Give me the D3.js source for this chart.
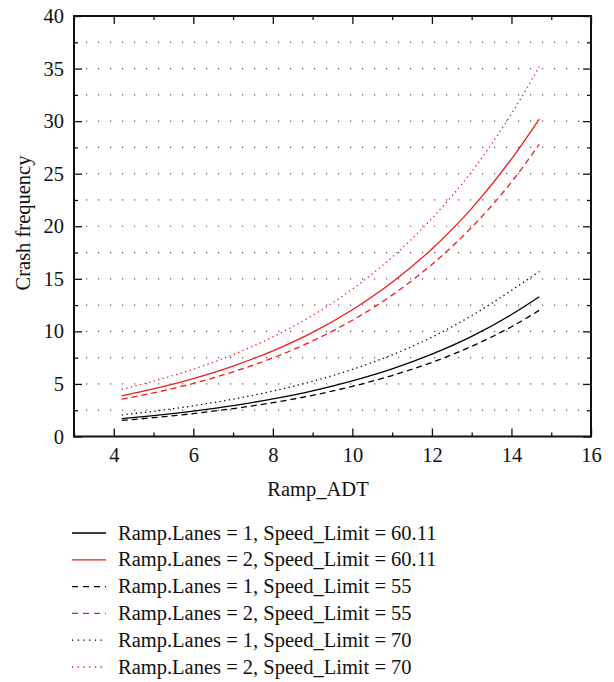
<!DOCTYPE html>
<html>
<head>
<title>Crash frequency vs Ramp_ADT</title>
<script src="https://d3js.org/d3.v7.min.js"></script>
<style type="text/css">
  body { margin: 0; background: white; }
  #chart text { font-family: "Liberation Serif", "Times New Roman", serif; fill: #111; }
</style>
</head>
<body>
<div id="chart"></div>
<script type="text/javascript">

// data
var rampADT = [4.2, 5, 6, 7, 8, 9, 10, 11, 12, 13, 14, 14.7];

var lanes1_6011 = [1.70, 1.99, 2.42, 2.94, 3.58, 4.35, 5.30, 6.44, 7.84, 9.53, 11.6, 13.3];
var lanes2_6011 = [3.87, 4.53, 5.51, 6.70, 8.15, 9.91, 12.06, 14.67, 17.84, 21.7, 26.4, 30.2];
var lanes1_55   = [1.53, 1.79, 2.18, 2.65, 3.22, 3.92, 4.77, 5.80, 7.05, 8.58, 10.44, 12.0];
var lanes2_55   = [3.55, 4.15, 5.05, 6.15, 7.48, 9.09, 11.06, 13.45, 16.37, 19.9, 24.2, 27.8];
var lanes1_70   = [2.05, 2.40, 2.92, 3.55, 4.32, 5.25, 6.39, 7.77, 9.45, 11.5, 13.9, 15.7];
var lanes2_70   = [4.50, 5.27, 6.40, 7.79, 9.48, 11.52, 14.02, 17.06, 20.75, 25.2, 30.7, 35.2];

var seriesNames = ["Ramp.Lanes = 1, Speed_Limit = 60.11",
                   "Ramp.Lanes = 2, Speed_Limit = 60.11",
                   "Ramp.Lanes = 1, Speed_Limit = 55",
                   "Ramp.Lanes = 2, Speed_Limit = 55",
                   "Ramp.Lanes = 1, Speed_Limit = 70",
                   "Ramp.Lanes = 2, Speed_Limit = 70"];
var seriesValues = [lanes1_6011, lanes2_6011, lanes1_55, lanes2_55, lanes1_70, lanes2_70];

var xMajor = [4, 6, 8, 10, 12, 14, 16];
var xMinor = [3, 5, 7, 9, 11, 13, 15];
var yMajor = [0, 5, 10, 15, 20, 25, 30, 35, 40];
var yMinor = [2.5, 7.5, 12.5, 17.5, 22.5, 27.5, 32.5, 37.5];

var colors = ["#000", "#ee1c1c", "#000", "#ee1c1c", "#000", "#ee1c1c"];
var dashes = [null, null, "6,4", "6,4", "1.3,3.4", "1.3,3.4"];

var width = 614, height = 682;
var plotLeft = 74, plotRight = 591, plotTop = 16, plotBottom = 436.5;

var svg = d3.select("#chart").append("svg")
            .attr("width", width)
            .attr("height", height);

var x = d3.scaleLinear().domain([3, 16]).range([plotLeft, plotRight]);
var y = d3.scaleLinear().domain([0, 40]).range([plotBottom, plotTop]);

// dotted grid at every 2.5
svg.append("g").selectAll("line")
   .data(yMajor.concat(yMinor).filter(function(v){ return v > 0 && v < 40; }))
   .enter().append("line")
   .attr("x1", plotLeft + 3).attr("x2", plotRight - 3)
   .attr("y1", function(d){ return y(d); })
   .attr("y2", function(d){ return y(d); })
   .attr("stroke", "#555")
   .attr("stroke-width", 1.2)
   .attr("stroke-dasharray", "1.2,10.8")
   .attr("stroke-dashoffset", -9);

// curves
var line = d3.line()
             .x(function(d){ return x(d[0]); })
             .y(function(d){ return y(d[1]); })
             .curve(d3.curveMonotoneX);

svg.append("g").selectAll("path")
   .data(seriesValues)
   .enter().append("path")
   .attr("d", function(vals){ return line(rampADT.map(function(a, i){ return [a, vals[i]]; })); })
   .attr("fill", "none")
   .attr("stroke", function(d, i){ return colors[i]; })
   .attr("stroke-width", 1.3)
   .attr("stroke-dasharray", function(d, i){ return dashes[i]; });

// axes, ticks inward
function tickStyle(g){
  g.select(".domain").remove();
  g.selectAll("line").attr("stroke", "#111").attr("stroke-width", 1.3);
}

svg.append("g").attr("transform", "translate(0," + plotBottom + ")")
   .call(d3.axisBottom(x).tickValues(xMajor).tickSize(-8).tickPadding(11).tickFormat(d3.format("d")))
   .call(tickStyle)
   .selectAll("text").attr("font-size", "20.5px");
svg.append("g").attr("transform", "translate(0," + plotBottom + ")")
   .call(d3.axisBottom(x).tickValues(xMinor).tickSize(-4).tickFormat(""))
   .call(tickStyle);
svg.append("g").attr("transform", "translate(0," + plotTop + ")")
   .call(d3.axisTop(x).tickValues(xMajor).tickSize(-8).tickFormat(""))
   .call(tickStyle);
svg.append("g").attr("transform", "translate(0," + plotTop + ")")
   .call(d3.axisTop(x).tickValues(xMinor).tickSize(-4).tickFormat(""))
   .call(tickStyle);

svg.append("g").attr("transform", "translate(" + plotLeft + ",0)")
   .call(d3.axisLeft(y).tickValues(yMajor).tickSize(-8).tickPadding(10).tickFormat(d3.format("d")))
   .call(tickStyle)
   .selectAll("text").attr("font-size", "20.5px");
svg.append("g").attr("transform", "translate(" + plotLeft + ",0)")
   .call(d3.axisLeft(y).tickValues(yMinor).tickSize(-4).tickFormat(""))
   .call(tickStyle);
svg.append("g").attr("transform", "translate(" + plotRight + ",0)")
   .call(d3.axisRight(y).tickValues(yMajor).tickSize(-8).tickFormat(""))
   .call(tickStyle);
svg.append("g").attr("transform", "translate(" + plotRight + ",0)")
   .call(d3.axisRight(y).tickValues(yMinor).tickSize(-4).tickFormat(""))
   .call(tickStyle);

// frame
svg.append("rect")
   .attr("x", plotLeft).attr("y", plotTop)
   .attr("width", plotRight - plotLeft).attr("height", plotBottom - plotTop)
   .attr("fill", "none").attr("stroke", "#111").attr("stroke-width", 2);

// axis titles
svg.append("text")
   .attr("x", 318).attr("y", 496)
   .attr("text-anchor", "middle")
   .attr("font-size", "20.5px")
   .text("Ramp_ADT");

svg.append("text")
   .attr("transform", "translate(30,223) rotate(-90)")
   .attr("text-anchor", "middle")
   .attr("font-size", "20.5px")
   .text("Crash frequency");

// legend
var legend = svg.append("g").selectAll("g")
   .data(seriesNames)
   .enter().append("g")
   .attr("transform", function(d, i){ return "translate(0," + (533 + i * 26.8) + ")"; });

legend.append("line")
   .attr("x1", 72).attr("x2", 106)
   .attr("stroke", function(d, i){ return colors[i]; })
   .attr("stroke-width", 1.3)
   .attr("stroke-dasharray", function(d, i){ return i < 2 ? null : (i < 4 ? "6,5" : "1.3,4.4"); });

legend.append("text")
   .attr("x", 118).attr("y", 6.5)
   .attr("font-size", "20.5px")
   .text(function(d){ return d; });

</script>
</body>
</html>
